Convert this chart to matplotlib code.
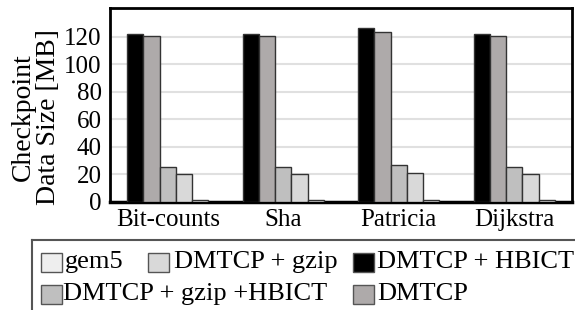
import numpy as np
import matplotlib.pyplot as plt
from matplotlib.patches import Rectangle
from matplotlib.lines import Line2D

plt.rcParams['font.family'] = 'serif'
plt.rcParams['font.serif'] = ['Liberation Serif', 'DejaVu Serif']

# Data (MB)
benchmarks = ['Bit-counts', 'Sha', 'Patricia', 'Dijkstra']
dmtcp_hbict = [122.4, 122.4, 126.8, 122.4]
dmtcp = [120.5, 120.5, 123.2, 120.5]
dmtcp_gzip_hbict = [25.7, 25.7, 26.7, 25.7]
dmtcp_gzip = [20.5, 20.5, 21.1, 20.5]
gem5 = [1.2, 1.2, 1.2, 1.2]

series = [
    ('DMTCP + HBICT', dmtcp_hbict, '#000000'),
    ('DMTCP', dmtcp, '#aeaaaa'),
    ('DMTCP + gzip +HBICT', dmtcp_gzip_hbict, '#bfbfbf'),
    ('DMTCP + gzip', dmtcp_gzip, '#d9d9d9'),
    ('gem5', gem5, '#eeeeee'),
]

W, H = 575, 310
fig = plt.figure(figsize=(W / 100, H / 100), dpi=100)
ax = fig.add_axes([110 / W, 1 - 202 / H, 462 / W, 194 / H])

x = np.arange(len(benchmarks))
width = 0.141
for i, (name, vals, col) in enumerate(series):
    ax.bar(x - 2 * width + i * width, vals, width, color=col,
           edgecolor='#333333', linewidth=1, zorder=3)

ax.set_xlim(-0.5, 3.5)
ax.set_ylim(0, 141)
ax.set_yticks(np.arange(0, 121, 20))
ax.yaxis.grid(True, color='#e0e0e0', linewidth=1.5, zorder=0)
ax.set_xticks(x)
ax.set_xticklabels(benchmarks)
ax.tick_params(axis='both', length=0, labelsize=18)
ax.tick_params(axis='y', pad=6)
ax.tick_params(axis='x', pad=5)
for s in ['top', 'right', 'left']:
    ax.spines[s].set_linewidth(2)
ax.spines['bottom'].set_linewidth(2.5)

fig.text(36 / W, 1 - 117 / H, 'Checkpoint\nData Size [MB]', rotation=90,
         ha='center', va='center', fontsize=20, multialignment='center',
         linespacing=1.05)

# Legend (manual layout, two rows)
def px(xp, yp):
    return xp / W, 1 - yp / H

fig.add_artist(Line2D([32 / W, 1.0], [1 - 240 / H] * 2,
                      transform=fig.transFigure, color='#555555', linewidth=1.5))
fig.add_artist(Line2D([32 / W, 32 / W], [0, 1 - 240 / H],
                      transform=fig.transFigure, color='#555555', linewidth=1.5))

entries = [
    ('gem5', '#eeeeee', 41, 262, 65),
    ('DMTCP + gzip', '#d9d9d9', 148, 262, 174),
    ('DMTCP + HBICT', '#000000', 353, 262, 377),
    ('DMTCP + gzip +HBICT', '#bfbfbf', 41, 294, 63),
    ('DMTCP', '#aeaaaa', 353, 294, 377),
]
for name, col, hx, cy, tx in entries:
    x0, y0 = px(hx, cy + 9.5)
    fig.add_artist(Rectangle((x0, y0), 21 / W, 19 / H, transform=fig.transFigure,
                             facecolor=col, edgecolor='#555555', linewidth=1))
    fig.text(tx / W, 1 - cy / H, name, ha='left', va='center', fontsize=19)

fig.savefig('out.png', dpi=100)
